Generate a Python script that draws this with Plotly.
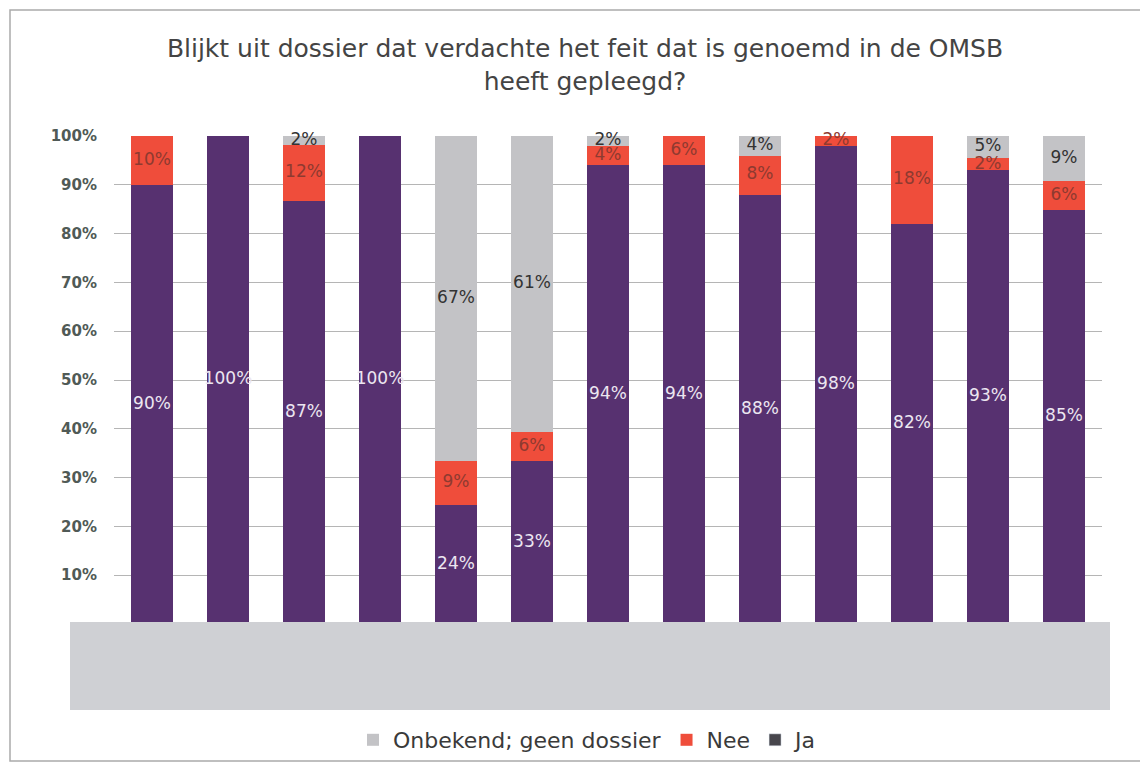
import plotly.graph_objects as go

categories = [f"c{i}" for i in range(1, 14)]
ja = [90, 100, 86.6, 100, 24.4, 33.4, 94, 94, 88, 98, 82, 93, 84.8]
nee = [10, 0, 11.6, 0, 9.0, 6.0, 4, 6, 8, 2, 18, 2.4, 6.0]
onbekend = [0, 0, 1.8, 0, 66.6, 60.6, 2, 0, 4, 0, 0, 4.6, 9.2]
tick_vals = [10, 20, 30, 40, 50, 60, 70, 80, 90, 100]
tick_text = [f"<b>{v}%</b>" for v in tick_vals]

C_JA = "#573170"
C_JA_LEGEND = "#47464c"
C_NEE = "#ef4d3b"
C_ONB = "#c3c3c6"
FONT = "DejaVu Sans"

fig = go.Figure()
fig.add_bar(x=categories, y=ja, name="Ja", showlegend=False,
            marker=dict(color=C_JA, line=dict(width=0)))
fig.add_bar(x=categories, y=nee, name="Nee", marker=dict(color=C_NEE, line=dict(width=0)),
            legendrank=2)
fig.add_bar(x=categories, y=onbekend, name="Onbekend; geen dossier",
            marker=dict(color=C_ONB, line=dict(width=0)), legendrank=1)
# legend entry for Ja (the printed legend swatch is dark grey)
fig.add_bar(x=[None], y=[None], name="Ja", marker=dict(color=C_JA_LEGEND), legendrank=3)

def lab(vals):
    return [f"{v:.0f}%" if v > 0 else "" for v in vals]

mid_ja = [v / 2 for v in ja]
mid_nee = [a + b / 2 for a, b in zip(ja, nee)]
mid_onb = [a + b + c / 2 for a, b, c in zip(ja, nee, onbekend)]
for mids, vals, col in [(mid_ja, ja, "#ece6f0"), (mid_nee, nee, "#8e3a30"), (mid_onb, onbekend, "#333333")]:
    fig.add_scatter(x=categories, y=mids, text=lab(vals), mode="text", showlegend=False,
                    textfont=dict(family=FONT, size=17, color=col), hoverinfo="skip",
                    cliponaxis=False)

# page body has an 8px margin: figure is drawn from (8, 8)
OFF = 8
W, H = 1140, 754
L, T, R, B = 106, 128, 46, 138
pw, ph = W - L - R, H - T - B

def px(x):
    return (x - OFF - L) / pw

def py(y):
    return (H - B - (y - OFF)) / ph

fig.update_layout(
    width=W, height=H,
    margin=dict(l=L, r=R, t=T, b=B, autoexpand=False),
    barmode="stack", bargap=0.45,
    paper_bgcolor="white", plot_bgcolor="white",
    title=dict(text="Blijkt uit dossier dat verdachte het feit dat is genoemd in de OMSB<br>heeft gepleegd?",
               x=(585 - OFF) / W, xanchor="center", y=1 - (57 - OFF) / H, yanchor="middle",
               font=dict(family=FONT, size=25, color="#444444")),
    font=dict(family=FONT),
    legend=dict(orientation="h", traceorder="normal", x=px(588), xanchor="center",
                y=py(740), yanchor="middle", font=dict(family=FONT, size=22, color="#3a3a3a"),
                itemwidth=30, bgcolor="rgba(0,0,0,0)"),
    xaxis=dict(range=[-0.5, 12.5], showticklabels=False, showgrid=False, zeroline=False,
               showline=False, ticks=""),
    yaxis=dict(range=[0, 100], tickvals=tick_vals, ticktext=tick_text, showgrid=True,
               gridcolor="#b5b5b5", gridwidth=1, zeroline=False, showline=False, automargin=False,
               tickfont=dict(family=FONT, size=15, color="#505a56"), ticklabelstandoff=16),
    shapes=[
        dict(type="rect", xref="paper", yref="paper", x0=px(70), x1=px(1110), y0=py(710), y1=py(622),
             fillcolor="#cfd0d4", line=dict(width=0), layer="above"),
        dict(type="rect", xref="paper", yref="paper", x0=px(10), x1=px(1147), y0=py(761), y1=py(10),
             fillcolor="rgba(0,0,0,0)", line=dict(width=1.5, color="#aaaaaa"), layer="below"),
    ],
)

fig.write_html("out.html")
